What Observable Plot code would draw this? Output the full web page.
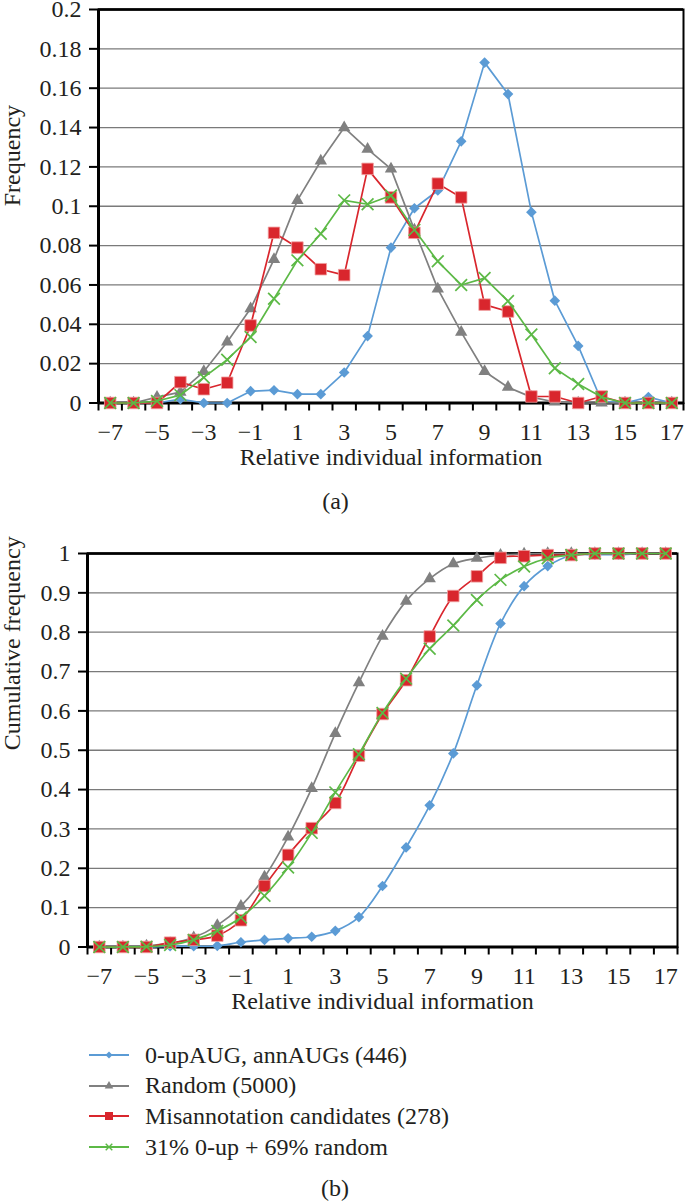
<!DOCTYPE html>
<html>
<head>
<meta charset="utf-8">
<script src="https://cdn.jsdelivr.net/npm/d3@7"></script>
<script src="https://cdn.jsdelivr.net/npm/@observablehq/plot@0.6"></script>
<style>
  html, body { margin: 0; padding: 0; background: #fff; }
  #root { position: relative; width: 685px; height: 1201px; font-family: "Liberation Serif", serif; color: #231f20; }
  .panel { position: absolute; left: 0; }
  #legend { position: absolute; left: 89px; top: 1040px; font-size: 24px; }
  .row { display: flex; align-items: center; height: 30.6px; }
  .row svg { margin-right: 16px; }
  #capb { position: absolute; left: 0; width: 670px; top: 1173px; text-align: center; font-size: 24px; line-height: 30px; }
</style>
</head>
<body>
<div id="root">
  <div class="panel" id="pa" style="top:0"></div>
  <div class="panel" id="pb" style="top:530px"></div>
  <div id="legend"></div>
  <div id="capb">(b)</div>
</div>
<script>
// ---- data ----
const xValues = [-7,-6,-5,-4,-3,-2,-1,0,1,2,3,4,5,6,7,8,9,10,11,12,13,14,15,16,17];
const xTickLabels = [-7,-5,-3,-1,1,3,5,7,9,11,13,15,17];
const seriesNames = ["0-upAUG, annAUGs (446)", "Random (5000)", "Misannotation candidates (278)", "31% 0-up + 69% random"];
const seriesColors = ["#5b9bd5", "#808080", "#d9262d", "#5cb946"];

const freqBlue  = [0,0,0,0.002,0,0,0.006,0.0065,0.0045,0.0045,0.0155,0.034,0.079,0.099,0.108,0.133,0.173,0.157,0.097,0.052,0.029,0.001,0,0.003,0];
const freqGray  = [0,0,0.003,0.0055,0.016,0.031,0.048,0.073,0.103,0.123,0.14,0.129,0.119,0.088,0.058,0.036,0.016,0.008,0.003,0.0005,0,0,0,0,0];
const freqRed   = [0,0,0,0.0106,0.007,0.0103,0.0394,0.0865,0.079,0.068,0.065,0.119,0.1045,0.0865,0.1115,0.1045,0.050,0.0465,0.0033,0.0033,0,0.0033,0,0,0];
const freqGreen = [0,0,0.001,0.004,0.013,0.022,0.0335,0.053,0.0725,0.086,0.103,0.101,0.1055,0.088,0.072,0.06,0.0635,0.0518,0.0348,0.0177,0.0097,0.003,0,0,0];

const cumBlue  = [0,0,0,0.002,0.002,0.003,0.012,0.018,0.022,0.026,0.041,0.076,0.155,0.253,0.36,0.492,0.665,0.822,0.917,0.968,0.995,0.997,0.997,1,1];
const cumGray  = [0,0,0.003,0.009,0.024,0.055,0.104,0.178,0.28,0.403,0.543,0.672,0.79,0.879,0.936,0.974,0.988,0.996,0.999,1,1,1,1,1,1];
const cumRed   = [0,0,0,0.011,0.018,0.029,0.068,0.155,0.234,0.302,0.366,0.486,0.592,0.678,0.789,0.892,0.942,0.989,0.993,0.996,0.996,1,1,1,1];
const cumGreen = [0,0,0.001,0.005,0.018,0.041,0.075,0.13,0.202,0.29,0.393,0.49,0.595,0.682,0.758,0.817,0.882,0.933,0.967,0.988,0.996,1,1,1,1];

const yTicksA = [0,0.02,0.04,0.06,0.08,0.1,0.12,0.14,0.16,0.18,0.2];
const yTicksB = [0,0.1,0.2,0.3,0.4,0.5,0.6,0.7,0.8,0.9,1];

// ---- helpers ----
const symbols = ["diamond2", "triangle", "square", "times"];
const radii = [4.8, 4.6, 6.5, 5.4];
const tickBounds = xValues.map(v => v - 0.5).concat([xValues[xValues.length - 1] + 0.5]);
const fmt = d3.format("~g");
const FS = 24;

function table(arrs) {
  return arrs.map((vals, s) => xValues.map((x, i) => ({x, y: vals[i], s})));
}

function seriesMarks(arrs, curve) {
  const marks = [];
  table(arrs).forEach((rows, s) => {
    marks.push(Plot.line(rows, {x: "x", y: "y", stroke: seriesColors[s], strokeWidth: 1.7, curve}));
    const dotOpts = {x: "x", y: "y", symbol: () => symbols[s], r: radii[s]};
    if (symbols[s] === "times") {
      Object.assign(dotOpts, {stroke: seriesColors[s], strokeWidth: 1.7, fill: "none"});
    } else if (symbols[s] === "square") {
      Object.assign(dotOpts, {fill: seriesColors[s], stroke: "#f0a0a0", strokeWidth: 0.8});
    } else {
      Object.assign(dotOpts, {fill: seriesColors[s], stroke: "none"});
    }
    marks.push(Plot.dot(rows, dotOpts));
  });
  return marks;
}

function panel({height, mt, mb, ml, mr, ydom, yticks, arrs, curve, ytitle, ytitleDx, xtitleDy, caption}) {
  const marks = [
    Plot.gridY(yticks, {stroke: "#7a7a7a", strokeOpacity: 1, strokeWidth: 1.3}),
    Plot.frame({stroke: "black", strokeWidth: 2}),
    Plot.ruleY([ydom[1]], {stroke: "black", strokeWidth: 2.6}),
    Plot.ruleX([-7.5], {stroke: "black", strokeWidth: 3}),
    Plot.ruleY([0], {stroke: "black", strokeWidth: 3}),
    Plot.axisY({ticks: yticks, tickSize: 9, tickPadding: 8, tickFormat: fmt, stroke: "black", strokeWidth: 2, label: null}),
    Plot.axisX({ticks: tickBounds, tickSize: 8, tickFormat: () => "", stroke: "black", strokeWidth: 2, label: null}),
    Plot.axisX({ticks: xTickLabels, tickSize: 0, tickPadding: 20, label: null}),
    ...seriesMarks(arrs, curve),
    Plot.text([ytitle], {frameAnchor: "left", dx: ytitleDx, rotate: -90, fontSize: FS}),
    Plot.text(["Relative individual information"], {frameAnchor: "bottom", dy: xtitleDy, fontSize: FS})
  ];
  if (caption) marks.push(Plot.text([caption.text], {frameAnchor: "bottom", dy: caption.dy, dx: caption.dx, fontSize: FS}));
  return Plot.plot({
    width: 685, height,
    marginTop: mt, marginBottom: mb, marginLeft: ml, marginRight: mr,
    x: {domain: [-7.5, 17.5]},
    y: {domain: ydom},
    style: {fontFamily: "'Liberation Serif', serif", fontSize: FS + "px", color: "#231f20", background: "white", overflow: "visible"},
    marks
  });
}

document.getElementById("pa").append(panel({
  height: 530, mt: 9, mb: 127.5, ml: 98, mr: 2,
  ydom: [0, 0.2], yticks: yTicksA,
  arrs: [freqBlue, freqGray, freqRed, freqGreen], curve: "linear",
  ytitle: "Frequency", ytitleDx: -86, xtitleDy: 62,
  caption: {text: "(a)", dy: 105.5, dx: -55.5}
}));

document.getElementById("pb").append(panel({
  height: 500, mt: 23, mb: 83.5, ml: 87, mr: 8,
  ydom: [0, 1], yticks: yTicksB,
  arrs: [cumBlue, cumGray, cumRed, cumGreen], curve: "catmull-rom",
  ytitle: "Cumulative frequency", ytitleDx: -75, xtitleDy: 61.5
}));

// ---- legend ----
const legend = document.getElementById("legend");
const ns = "http://www.w3.org/2000/svg";
seriesNames.forEach((name, s) => {
  const row = document.createElement("div");
  row.className = "row";
  const svg = document.createElementNS(ns, "svg");
  svg.setAttribute("width", 40); svg.setAttribute("height", 14);
  const line = document.createElementNS(ns, "line");
  line.setAttribute("x1", 0); line.setAttribute("x2", 40); line.setAttribute("y1", 7); line.setAttribute("y2", 7);
  line.setAttribute("stroke", seriesColors[s]); line.setAttribute("stroke-width", 2);
  svg.append(line);
  const p = document.createElementNS(ns, "path");
  const symMap = {diamond2: d3.symbolDiamond2, triangle: d3.symbolTriangle, square: d3.symbolSquare, times: d3.symbolTimes};
  const sizes = [32, 32, 64, 30];
  p.setAttribute("d", d3.symbol(symMap[symbols[s]], sizes[s])());
  p.setAttribute("transform", "translate(20,7)");
  if (symbols[s] === "times") { p.setAttribute("fill", "none"); p.setAttribute("stroke", seriesColors[s]); p.setAttribute("stroke-width", 1.4); }
  else { p.setAttribute("fill", seriesColors[s]); }
  svg.append(p);
  row.append(svg);
  const t = document.createElement("span");
  t.textContent = name;
  row.append(t);
  legend.append(row);
});
</script>
</body>
</html>
